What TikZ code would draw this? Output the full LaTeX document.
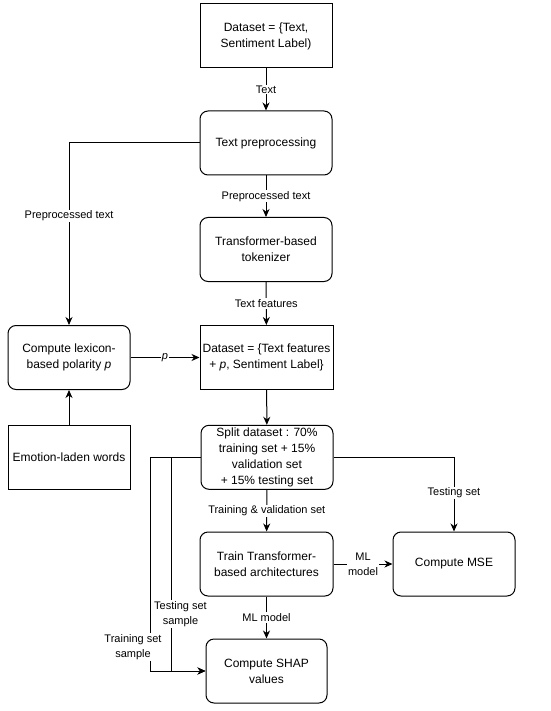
\documentclass[tikz,border=0pt]{standalone}
\usepackage{fontspec}
\setmainfont{Liberation Sans}
\usetikzlibrary{arrows.meta,
                positioning
            }

\begin{document}
\begin{tikzpicture}[x=1pt, y=-1pt, line width=1pt,
        >={Stealth[length=8pt, width=7pt, inset=2.5pt]},
        box/.style={draw, minimum width=132pt, minimum height=64pt, align=center, inner sep=1pt, font=\fontsize{12}{16}\selectfont},
        rbox/.style={box, rounded corners=8pt},
        lbl/.style={fill=white, inner sep=1pt, align=center, font=\fontsize{11}{15}\selectfont}]
            \useasboundingbox (0, 0) rectangle (550, 711);
            \node[box] (data) at (266, 36) {Dataset = \{Text,\\Sentiment Label)};
            \node[rbox] (prep) at (266, 143) {Text preprocessing};
            \node[rbox] (tok) at (266, 249.5) {Transformer-based\\tokenizer};
            \node[box, minimum width=133pt] (feat) at (266.5, 357.5) {Dataset = \{Text features\\+ \textit{p}, Sentiment Label\}};
            \node[rbox, minimum width=122pt] (lex) at (69, 357.5) {Compute lexicon-\\based polarity \textit{p}};
            \node[box, minimum width=122pt] (emo) at (69, 457.3) {Emotion-laden words};
            \node[rbox] (split) at (267, 457.3) {Split dataset : 70\%\\training set + 15\%\\validation set\\+ 15\% testing set};
            \node[rbox, minimum width=133pt] (train) at (266.5, 564) {Train Transformer-\\based architectures};
            \node[rbox, minimum width=122pt] (mse) at (454, 564) {Compute MSE};
            \node[rbox, minimum width=121pt] (shap) at (266.5, 671) {Compute SHAP\\values};
            \coordinate (trn) at (150, 671);
            \coordinate (tst) at (171, 671);
            % main column
            \draw[->] (data) -- node[lbl] {Text} (prep);
            \draw[->] (prep) -- node[lbl] {Preprocessed text} (tok);
            \draw[->] (tok) -- node[lbl] {Text features} (feat);
            \draw[->] (feat) -- (split);
            \draw[->] (split) -- node[lbl] {Training \& validation set} (train);
            \draw[->] (train) -- node[lbl] {ML model} (shap);
            % lexicon branch
            \draw[->] (prep.west) -| node[lbl, pos=0.7] {Preprocessed text} (lex.north);
            \draw[->] (emo) -- (lex);
            \draw[->] (lex) -- node[lbl] {\textit{p}} (feat);
            % evaluation
            \draw[->] (split.east) -| node[lbl, pos=0.74] {Testing set} (mse.north);
            \draw[->] (train) -- node[lbl] {ML\\model} (mse);
            \draw[->] (split.west) -| (trn) -- (shap.west);
            \draw[->] (split.west) -| (tst) -- (shap.west);
            \node[lbl] (trnlbl) at (133, 647) {Training set\\sample};
            \node[lbl] (tstlbl) at (180.5, 614) {Testing set\\sample};
        \end{tikzpicture}
\end{document}
